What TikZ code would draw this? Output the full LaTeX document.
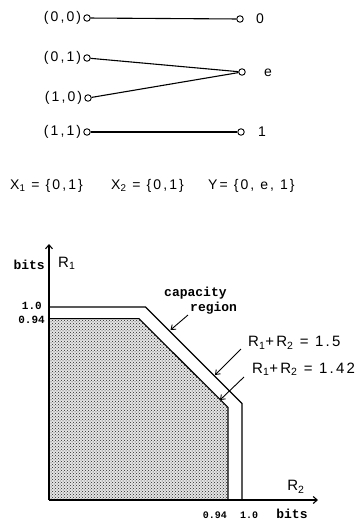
\documentclass[tikz,border=0pt]{standalone}
\usepackage{fontspec}
\setmainfont[LetterSpace=15]{Liberation Sans}
\newfontfamily\typefont{Liberation Mono}
\usetikzlibrary{arrows.meta,patterns}
\begin{document}
\begin{tikzpicture}[x=1pt,y=-1pt,
  port/.style={circle,draw,line width=0.9pt,inner sep=0pt,minimum size=6.5pt},
  wire/.style={line width=1.1pt},
  lbl/.style={font=\fontsize{14}{16}\selectfont,inner sep=1pt},
  eqlbl/.style={font=\fontsize{15}{17}\selectfont,inner sep=1pt},
  tick/.style={font=\typefont\bfseries\fontsize{11}{12}\selectfont,inner sep=1pt},
  btick/.style={font=\typefont\bfseries\fontsize{10}{11}\selectfont,inner sep=1pt},
  mono/.style={font=\typefont\bfseries\fontsize{13}{15}\selectfont,inner sep=1pt,align=left},
  axis/.style={line width=1.1pt,-{Straight Barb[length=4pt,width=7pt]}},
  bound/.style={line width=1.1pt},
  pointer/.style={line width=0.9pt,-{Straight Barb[length=4pt,width=6pt]}}]
\useasboundingbox (0,0) rectangle (358,520);
% ---- channel ----
\node[port] (i00) at (87,18) {};
\node[port] (i01) at (87,58) {};
\node[port] (i10) at (88,98) {};
\node[port] (i11) at (87,132) {};
\node[port] (o0) at (240,19) {};
\node[port] (oe) at (242,72) {};
\node[port] (o1) at (241,132) {};
\node[lbl,anchor=east] (l00) at ([xshift=-1pt]i00.west) {(0,0)};
\node[lbl,anchor=east] (l01) at ([xshift=-1pt]i01.west) {(0,1)};
\node[lbl,anchor=east] (l10) at ([xshift=-1pt]i10.west) {(1,0)};
\node[lbl,anchor=east] (l11) at ([xshift=-1pt]i11.west) {(1,1)};
\node[lbl] (t0) at (260,19) {0};
\node[lbl] (te) at (268,73) {e};
\node[lbl] (t1) at (262,132) {1};
\draw[wire] (i00) -- (o0);
\draw[wire] (i01) -- (oe);
\draw[wire] (i10) -- (oe);
\draw[wire] (i11) -- (o1);
% ---- alphabets ----
\node[lbl,anchor=west] (ax1) at (9,186) {X\textsubscript{1} = \{0,1\}};
\node[lbl,anchor=west] (ax2) at (110,186) {X\textsubscript{2} = \{0,1\}};
\node[lbl,anchor=west] (ay) at (207,186) {Y= \{0, e, 1\}};
% ---- capacity region ----
\coordinate (O) at (49,500);
\coordinate (ytop) at (49,244);
\coordinate (xend) at (318,500);
\coordinate (a1) at (49,307);
\coordinate (a2) at (145.5,307);
\coordinate (a3) at (242,403.5);
\coordinate (a4) at (242,500);
\coordinate (b1) at (49,318.6);
\coordinate (b2) at (139,318.6);
\coordinate (b3) at (228,407.4);
\coordinate (b4) at (228,500);
\fill[black!10] (O) -- (b1) -- (b2) -- (b3) -- (b4) -- cycle;
\fill[pattern=crosshatch dots,pattern color=black!85] (O) -- (b1) -- (b2) -- (b3) -- (b4) -- cycle;
\draw[bound] (b1) -- (b2) -- (b3) -- (b4);
\draw[bound] (a1) -- (a2) -- (a3) -- (a4);
\draw[axis] (O) -- (ytop);
\draw[axis] (O) -- (xend);
\node[mono,anchor=east] (ybits) at (46,265) {bits};
\node[eqlbl,anchor=west] (yr) at (57,263) {R\textsubscript{1}};
\node[tick,anchor=east] (y10) at (43,306) {1.0};
\node[tick,anchor=east] (y94) at (46,320) {0.94};
\node[eqlbl] (xr) at (296,487) {R\textsubscript{2}};
\node[btick] (x94) at (215,515) {0.94};
\node[btick] (x10) at (249,515) {1.0};
\node[mono] (xbits) at (292,514) {bits};
\node[mono,anchor=west] (cap) at (163,301) {capacity\\\hspace*{2em}region};
\node[eqlbl,anchor=west] (s15) at (247,343) {R\textsubscript{1}+R\textsubscript{2} = 1.5};
\node[eqlbl,anchor=west] (s142) at (251,369) {R\textsubscript{1}+R\textsubscript{2} = 1.42};
\coordinate (capfrom) at (188,315);
\coordinate (capto) at (170.5,330);
\coordinate (s15from) at (241,349);
\coordinate (s15to) at (215,375);
\coordinate (s142from) at (244,377);
\coordinate (s142to) at (220,400);
\draw[pointer] (capfrom) -- (capto);
\draw[pointer] (s15from) -- (s15to);
\draw[pointer] (s142from) -- (s142to);
\end{tikzpicture}
\end{document}
